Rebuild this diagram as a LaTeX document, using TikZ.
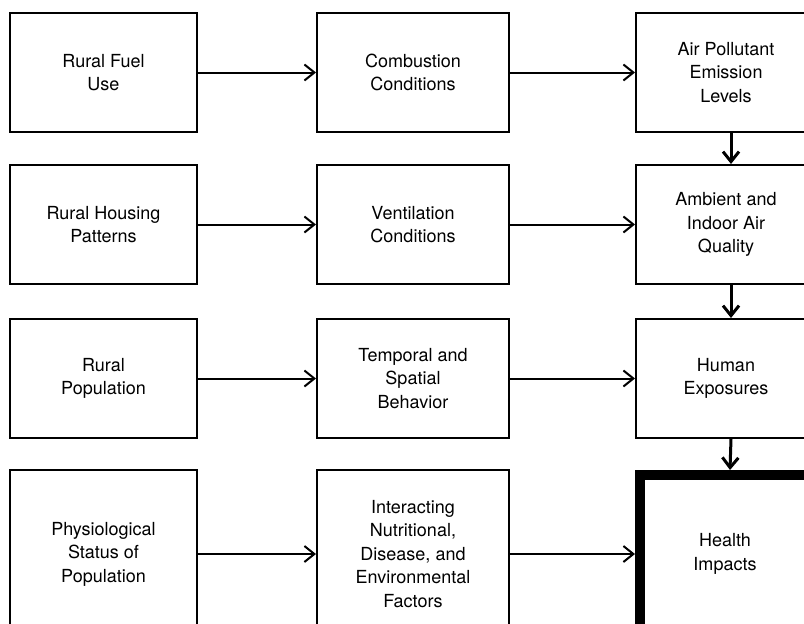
\documentclass[tikz,border=0pt]{standalone}
\usepackage{fontspec}
\setmainfont{TeX Gyre Heros}
\usetikzlibrary{arrows.meta,positioning}

\begin{document}
\begin{tikzpicture}[
  x=1pt, y=1pt,
  node distance=31pt and 118pt,
  box/.style={draw, line width=2pt, minimum width=187pt, minimum height=119pt,
    align=center, inner sep=0pt, font=\fontsize{18}{23.5}\selectfont},
  wide/.style={minimum width=192pt},
  tall/.style={minimum height=168pt},
  goal/.style={box, line width=10pt, minimum width=170pt, minimum height=158pt},
  arrow/.style={-{Straight Barb[length=10pt,width=16pt]}, line width=2pt},
  down/.style={arrow, line width=3pt}
]
\clip (0,0) rectangle (804,-624);
% left column
\node[box] (fuel) at (103.5,-72.5) {Rural Fuel\\Use};
\node[box, below=of fuel] (housing) {Rural Housing\\Patterns};
\node[box, below=33pt of housing] (pop) {Rural\\Population};
\node[box, tall, below=30pt of pop] (physio) {Physiological\\Status of\\Population};
% middle column
\node[box, wide, right=of fuel] (combust) {Combustion\\Conditions};
\node[box, wide, right=of housing] (vent) {Ventilation\\Conditions};
\node[box, wide, right=of pop] (behave) {Temporal and\\Spatial\\Behavior};
\node[box, wide, tall, right=of physio] (factors) {Interacting\\Nutritional,\\Disease, and\\Environmental\\Factors};
% right column
\node[box, minimum width=180pt, right=125pt of combust] (emission) {Air Pollutant\\Emission\\Levels};
\node[box, minimum width=180pt, right=125pt of vent] (quality) {Ambient and\\Indoor Air\\Quality};
\node[box, minimum width=180pt, right=125pt of behave] (exposure) {Human\\Exposures};
\node[goal, right=125pt of factors] (health) {Health\\Impacts};

\draw[arrow] (fuel) -- (combust);
\draw[arrow] (housing) -- (vent);
\draw[arrow] (pop) -- (behave);
\draw[arrow] (physio) -- (factors);
\draw[arrow] (combust) -- (emission);
\draw[arrow] (vent) -- (quality);
\draw[arrow] (behave) -- (exposure);
\draw[arrow] (factors) -- (health);
\draw[down] ([xshift=5pt]emission.south) -- ([xshift=5pt]quality.north);
\draw[down] ([xshift=5pt]quality.south) -- ([xshift=5pt]exposure.north);
\draw[down] ([xshift=5pt]exposure.south) -- ([xshift=5pt]health.north);
\end{tikzpicture}
\end{document}
